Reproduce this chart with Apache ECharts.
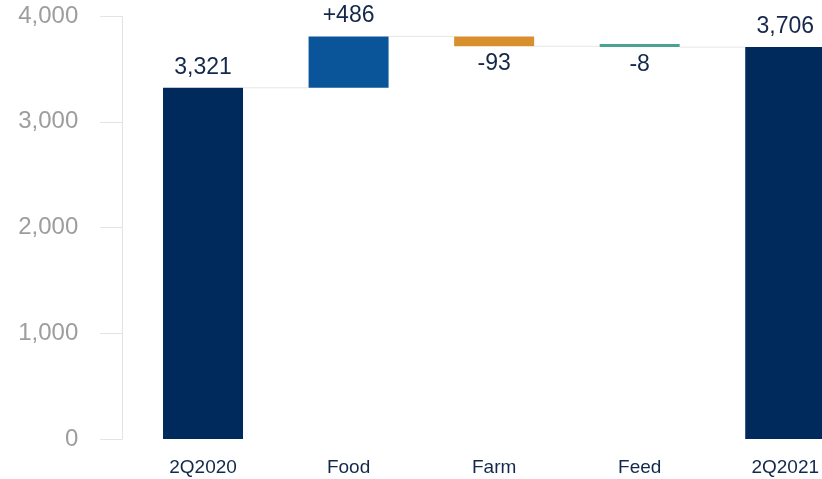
<!DOCTYPE html>
<html>
<head>
<meta charset="utf-8">
<script src="https://cdn.jsdelivr.net/npm/echarts@6/dist/echarts.min.js"></script>
<style>
  html, body { margin: 0; padding: 0; background: #fff; overflow: hidden; }
  /* the original chart is clipped on the right, so the canvas runs past the window */
  #chart { width: 858px; height: 479px; }
</style>
</head>
<body>
<div id="chart"></div>
<script>
// waterfall: start, three steps, end
const categories = ['2Q2020', 'Food', 'Farm', 'Feed', '2Q2021'];
const startValue = 3321;
const deltas = [486, -93, -8];
const endValue = 3706;
const barColors = ['#012a5c', '#0a5499', '#d8902f', '#4aa391', '#012a5c'];
const yTicks = [0, 1000, 2000, 3000, 4000];

// build base (invisible) + visible parts
let base = [0];
let shown = [startValue];
let levels = [startValue]; // running total after each bar
let running = startValue;
deltas.forEach(d => {
  let next = running + d;
  base.push(Math.min(running, next));
  shown.push(Math.abs(d));
  running = next;
  levels.push(running);
});
base.push(0);
shown.push(endValue);

const labelText = [startValue, ...deltas, endValue].map((v, i) => {
  let s = Math.abs(v).toLocaleString('en-US');
  if (i === 0 || i === categories.length - 1) return s;
  return (v >= 0 ? '+' : '-') + s;
});

const BAR_W = 80;
const font = '"Liberation Sans", Arial, Helvetica, sans-serif';

let chart = echarts.init(document.getElementById('chart'));
chart.setOption({
  animation: false,
  grid: { left: 130.25, top: 16, right: 0, bottom: 40 },
  xAxis: {
    type: 'category',
    data: categories,
    axisLine: { show: false },
    axisTick: { show: false },
    axisLabel: { color: '#14284b', fontSize: 19, fontFamily: font, margin: 19 }
  },
  yAxis: {
    type: 'value',
    min: 0, max: 4000, interval: 1000,
    offset: 8,
    axisLine: { show: true, lineStyle: { color: '#e3e3e3', width: 1 } },
    axisTick: { show: true, length: 22, lineStyle: { color: '#e3e3e3' } },
    splitLine: { show: false },
    axisLabel: {
      color: '#9d9d9d', fontSize: 24, fontFamily: font, margin: 44,
      formatter: v => yTicks.includes(v) ? v.toLocaleString('en-US') : ''
    }
  },
  series: [
    {
      type: 'bar', stack: 'wf', barWidth: BAR_W, silent: true,
      itemStyle: { color: 'transparent' },
      data: base
    },
    {
      type: 'bar', stack: 'wf', barWidth: BAR_W, barMinHeight: 3,
      data: shown.map((v, i) => {
        let down = i > 0 && i < categories.length - 1 && deltas[i - 1] < 0;
        return {
          value: v,
          itemStyle: { color: barColors[i] },
          label: {
            show: true,
            position: down ? 'bottom' : 'top',
            distance: down ? 6 : 9,
            formatter: labelText[i],
            color: '#14284b', fontSize: 23, fontFamily: font
          }
        };
      })
    },
    {
      // connector lines between bars
      type: 'custom', silent: true, z: 1,
      data: levels.map((v, i) => [i, v]),
      renderItem: (params, api) => {
        let i = api.value(0), v = api.value(1);
        let p0 = api.coord([i, v]);
        let p1 = api.coord([i + 1, v]);
        return {
          type: 'line',
          shape: { x1: p0[0] + BAR_W / 2, y1: p0[1], x2: p1[0] - BAR_W / 2, y2: p1[1] },
          style: { stroke: '#e6e6e6', lineWidth: 1 }
        };
      }
    }
  ]
});
</script>
</body>
</html>
